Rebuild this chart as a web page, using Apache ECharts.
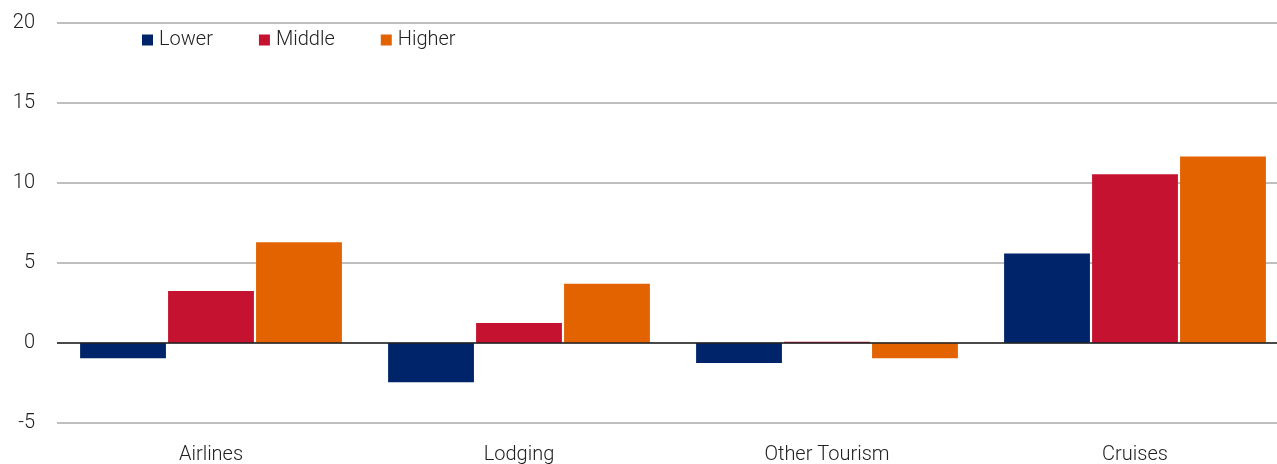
<!DOCTYPE html>
<html>
<head>
<meta charset="utf-8">
<script src="https://cdn.jsdelivr.net/npm/echarts@6/dist/echarts.min.js"></script>
<style>
html,body{margin:0;padding:0;background:#fff;}
#chart{width:1277px;height:464px;}
</style>
</head>
<body>
<div id="chart"></div>
<script>
const categories = ['Airlines', 'Lodging', 'Other Tourism', 'Cruises'];
const seriesNames = ['Lower', 'Middle', 'Higher'];
const lowerValues = [-0.95, -2.45, -1.25, 5.6];
const middleValues = [3.25, 1.25, 0.08, 10.55];
const higherValues = [6.3, 3.7, -0.95, 11.65];
const yTicks = { min: -5, max: 20, interval: 5 };
const colors = ['#002469', '#C41230', '#E36300'];

const font = 'Roboto, "Open Sans", sans-serif';
const chart = echarts.init(document.getElementById('chart'));
const allValues = [lowerValues, middleValues, higherValues];

chart.setOption({
  animation: false,
  color: colors,
  textStyle: { fontFamily: font },
  grid: { left: 57, right: -12, top: 23, bottom: 41, containLabel: false, outerBoundsMode: 'none' },
  legend: {
    left: 137, top: 25,
    itemWidth: 11, itemHeight: 11, itemGap: 46,
    icon: 'rect',
    textStyle: { fontSize: 20, color: '#222', fontFamily: font, fontWeight: 300, padding: [0, 0, 0, 1] },
    data: seriesNames
  },
  xAxis: {
    type: 'category',
    data: categories,
    axisLine: { show: false, onZero: false },
    axisTick: { show: false },
    axisLabel: { fontSize: 20, color: '#222', margin: 22, fontFamily: font, fontWeight: 300 },
    splitLine: { show: false }
  },
  yAxis: {
    type: 'value',
    min: yTicks.min, max: yTicks.max, interval: yTicks.interval,
    axisLine: { show: false },
    axisTick: { show: false },
    axisLabel: { fontSize: 20, color: '#222', margin: 22, fontFamily: font, fontWeight: 300, padding: [4, 0, 0, 0] },
    splitLine: { lineStyle: { color: '#bfbfbf', width: 2 } }
  },
  series: seriesNames.map((name, i) => {
    const s = {
      name: name,
      type: 'bar',
      data: allValues[i],
      barCategoryGap: '15%',
      barGap: '2.5%',
      itemStyle: { color: colors[i] }
    };
    if (i === 2) {
      s.markLine = {
        silent: true,
        symbol: 'none',
        label: { show: false },
        lineStyle: { color: '#222', type: 'solid', width: 1.5 },
        data: [{ yAxis: 0 }]
      };
    }
    return s;
  })
});
</script>
</body>
</html>
